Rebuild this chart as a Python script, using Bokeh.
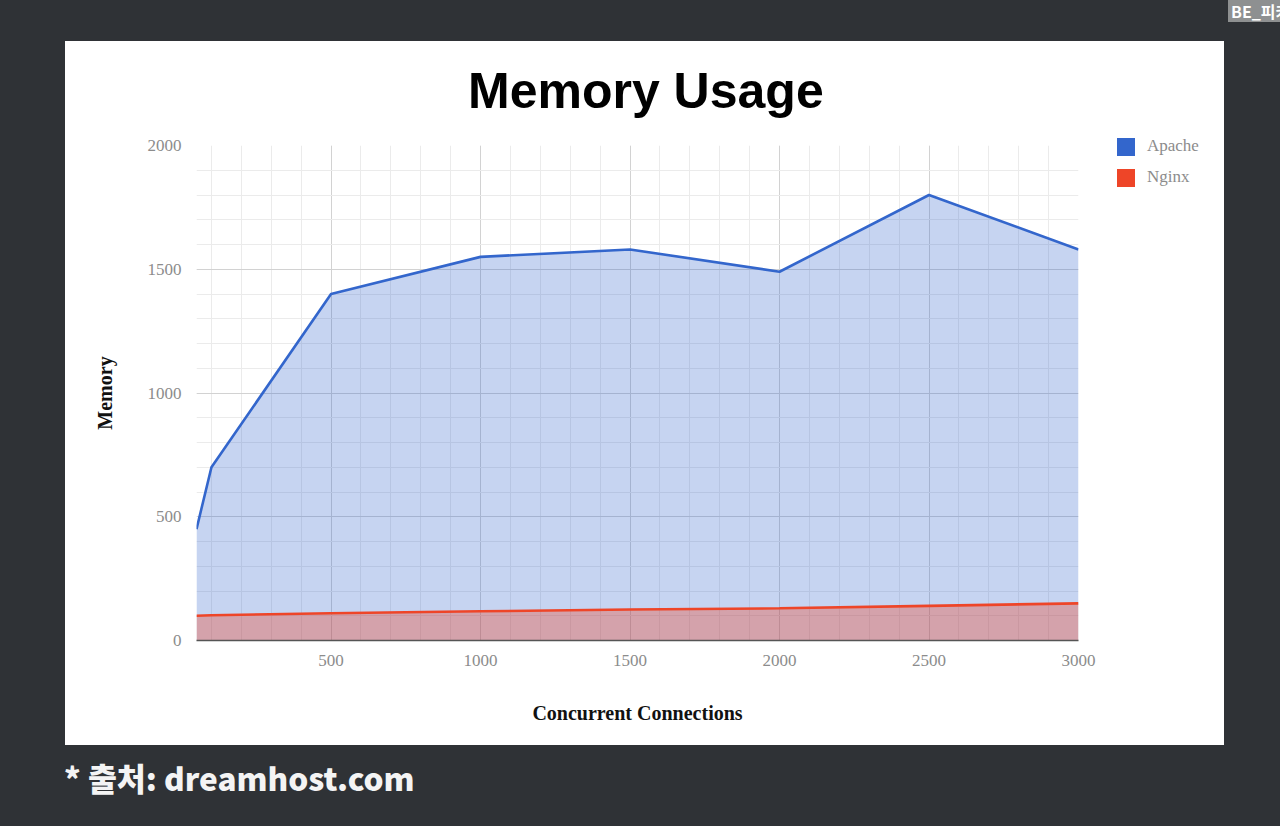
from bokeh.plotting import figure
from bokeh.models import Range1d, SingleIntervalTicker, Div, Spacer
from bokeh.layouts import column, row
from bokeh.embed import file_html
from bokeh.resources import INLINE

# Memory usage (MB) by number of concurrent connections
connections = [50, 100, 500, 1000, 1500, 2000, 2500, 3000]
apache = [450, 700, 1400, 1550, 1580, 1490, 1800, 1580]
nginx = [100, 102, 110, 118, 125, 130, 140, 150]
series_names = ["Apache", "Nginx"]

APACHE_COLOR = "#3366cc"
NGINX_COLOR = "#ee4528"
PAGE_BG = "#2f3236"

p = figure(width=1033, height=620,
           x_range=Range1d(50, 3000), y_range=Range1d(0, 2000),
           output_backend="svg", toolbar_location=None,
           min_border_left=131, min_border_right=20,
           min_border_top=20, min_border_bottom=105,
           background_fill_color="white", border_fill_color="white",
           outline_line_color=None)

# axes and grid
tick = SingleIntervalTicker(interval=500, num_minor_ticks=5)
for ax in (p.xaxis[0], p.yaxis[0]):
    ax.ticker = tick
    ax.major_tick_line_color = None
    ax.minor_tick_line_color = None
    ax.major_label_text_font = "Liberation Serif"
    ax.major_label_text_font_size = "17px"
    ax.major_label_text_color = "#8c8c8c"
    ax.axis_label_text_font = "Liberation Serif"
    ax.axis_label_text_font_style = "bold"
    ax.axis_label_text_font_size = "20px"
    ax.axis_label_text_color = "#111111"

p.xaxis.axis_label = "Concurrent Connections"
p.xaxis.axis_line_color = "#555555"
p.xaxis.axis_line_width = 1.5
p.xaxis.major_label_standoff = 8
p.xaxis.axis_label_standoff = 33

p.yaxis.axis_label = "Memory"
p.yaxis.axis_line_color = None
p.yaxis.major_label_standoff = 9
p.yaxis.axis_label_standoff = 29

for g in (p.xgrid[0], p.ygrid[0]):
    g.ticker = tick
    g.grid_line_color = "#d2d2d2"
    g.grid_line_width = 1
    g.minor_grid_line_color = "#ebebeb"
    g.minor_grid_line_width = 1

# areas (both measured from zero, Nginx drawn over Apache)
p.varea(x=connections, y1=0, y2=apache, fill_color=APACHE_COLOR, fill_alpha=0.28)
p.line(connections, apache, line_color=APACHE_COLOR, line_width=2.6)
p.varea(x=connections, y1=0, y2=nginx, fill_color=NGINX_COLOR, fill_alpha=0.35)
p.line(connections, nginx, line_color=NGINX_COLOR, line_width=2.6)

# chart title
title_div = Div(text="Memory Usage", width=1159, height=84,
                styles={"background-color": "white", "color": "#000000",
                        "font-family": "'Liberation Sans'", "font-weight": "bold",
                        "font-size": "50px", "line-height": "50px",
                        "padding": "25px 0 0 403px", "box-sizing": "border-box",
                        "white-space": "nowrap", "margin": "0"})

# legend strip to the right of the chart
def legend_entry(label, color, top):
    return (f'<div style="position:absolute;left:19px;top:{top}px;width:18px;'
            f'height:18px;background:{color};"></div>'
            f'<div style="position:absolute;left:49px;top:{top - 2}px;'
            f'font-family:\'Liberation Serif\';font-size:17px;line-height:20px;'
            f'color:#8c8c8c;white-space:nowrap;">{label}</div>')

legend_html = ('<div style="position:relative;width:126px;height:620px;">'
               + legend_entry(series_names[0], APACHE_COLOR, 13)
               + legend_entry(series_names[1], NGINX_COLOR, 44)
               + '</div>')
legend_div = Div(text=legend_html, width=126, height=620,
                 styles={"background-color": "white", "margin": "0"})

badge = Div(text="BE_피카", width=52, height=22,
            styles={"background-color": "#8e9091", "color": "white",
                    "font-family": "'Noto Sans CJK KR'", "font-weight": "700",
                    "font-size": "16px", "line-height": "22px",
                    "margin": "0", "padding": "0 0 0 3px",
                    "box-sizing": "border-box", "height": "22px",
                    "overflow": "hidden", "white-space": "nowrap"})

footer = Div(text="* 출처: dreamhost.com", width=600, height=50,
             styles={"color": "#f4f4f4", "font-family": "'Noto Sans CJK KR'",
                     "font-weight": "900", "font-size": "31.5px",
                     "line-height": "46px", "white-space": "nowrap",
                     "margin": "0"})

panel = column(title_div,
               row(p, legend_div, height=620,
                   styles={"background-color": "white"}),
               width=1159, height=704,
               styles={"background-color": "white"})

root = column(
    row(Spacer(width=1228, height=22), badge, height=22),
    Spacer(width=1280, height=19),
    row(Spacer(width=65, height=704), panel, height=704),
    Spacer(width=1280, height=9),
    row(Spacer(width=64, height=50), footer, height=50),
    width=1280, height=826, sizing_mode="fixed",
    styles={"background-color": PAGE_BG},
)

open("out.html", "w").write(file_html(root, INLINE, title="Memory Usage"))
